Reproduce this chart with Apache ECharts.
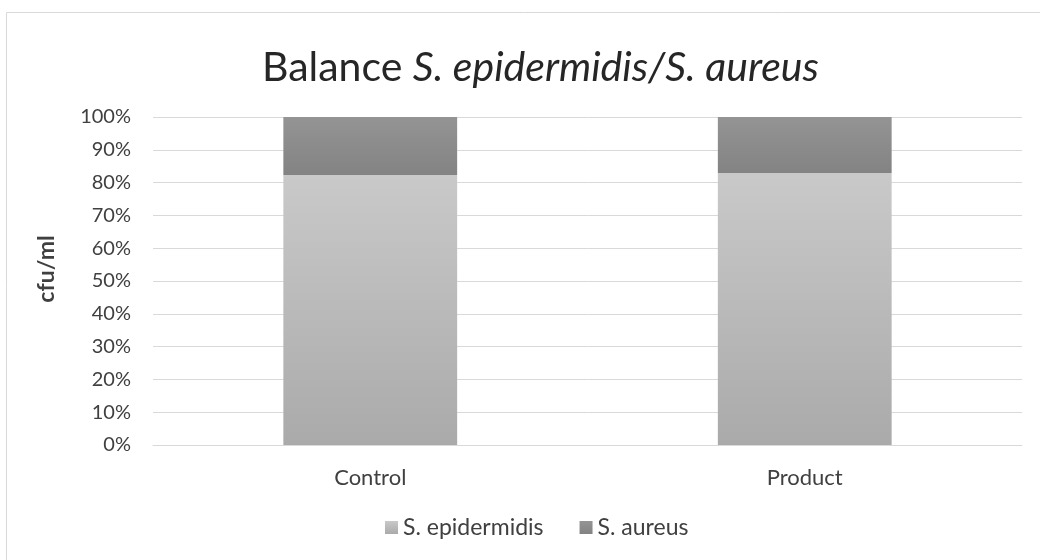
<!DOCTYPE html>
<html>
<head>
<meta charset="utf-8">
<script src="https://cdn.jsdelivr.net/npm/echarts@6/dist/echarts.min.js"></script>
<style>html,body{margin:0;padding:0;background:#fff;}#c{width:1040px;height:560px;}</style>
</head>
<body>
<div id="c"></div>
<script>
const categories = ['Control', 'Product'];
const epidermidis = [82.3, 82.9];
const aureus = [17.7, 17.1];
const seriesNames = ['S. epidermidis', 'S. aureus'];

const FONT = 'Lato';
const chart = echarts.init(document.getElementById('c'));
const grad = (a, b) => new echarts.graphic.LinearGradient(0, 0, 0, 1, [{offset: 0, color: a}, {offset: 1, color: b}]);

chart.setOption({
  backgroundColor: '#fff',
  animation: false,
  title: {
    text: '{r|Balance }{i|S. epidermidis/S. aureus}',
    left: 257,
    top: 42,
    textStyle: {
      rich: {
        r: {fontFamily: FONT, fontSize: 41, fontWeight: 'normal', color: '#262626'},
        i: {fontFamily: FONT, fontSize: 41, fontWeight: 'normal', fontStyle: 'italic', color: '#262626'}
      }
    }
  },
  graphic: [{
    type: 'rect', shape: {x: 6.5, y: 12.5, width: 1100, height: 600},
    style: {fill: 'none', stroke: '#d9d9d9', lineWidth: 1}, silent: true
  }],
  legend: {
    bottom: 16,
    left: 380,
    itemWidth: 13, itemHeight: 13, itemGap: 36,
    icon: 'rect',
    textStyle: {fontFamily: FONT, fontSize: 23, color: '#404040'},
    data: seriesNames
  },
  grid: {left: 153, right: 18, top: 117, bottom: 115},
  xAxis: {
    type: 'category', data: categories,
    axisLine: {lineStyle: {color: '#d9d9d9'}},
    axisTick: {show: false},
    axisLabel: {fontFamily: FONT, fontSize: 22, color: '#404040', margin: 22}
  },
  yAxis: {
    type: 'value', min: 0, max: 100, interval: 10,
    name: 'cfu/ml', nameLocation: 'middle', nameGap: 95, nameRotate: 90,
    nameTextStyle: {fontFamily: FONT, fontSize: 23, fontWeight: 'bold', color: '#404040', padding: [0, 0, 0, 24]},
    axisLabel: {formatter: '{value}%', fontFamily: FONT, fontSize: 20, color: '#404040', margin: 22},
    splitLine: {lineStyle: {color: '#d9d9d9'}},
    axisLine: {show: false}, axisTick: {show: false}
  },
  series: [
    {name: seriesNames[0], type: 'bar', stack: 's', data: epidermidis, barWidth: '40%',
     itemStyle: {color: grad('#c9c9c9', '#aaaaaa')}},
    {name: seriesNames[1], type: 'bar', stack: 's', data: aureus, barWidth: '40%',
     itemStyle: {color: grad('#949494', '#838383')}}
  ]
});
</script>
</body>
</html>
